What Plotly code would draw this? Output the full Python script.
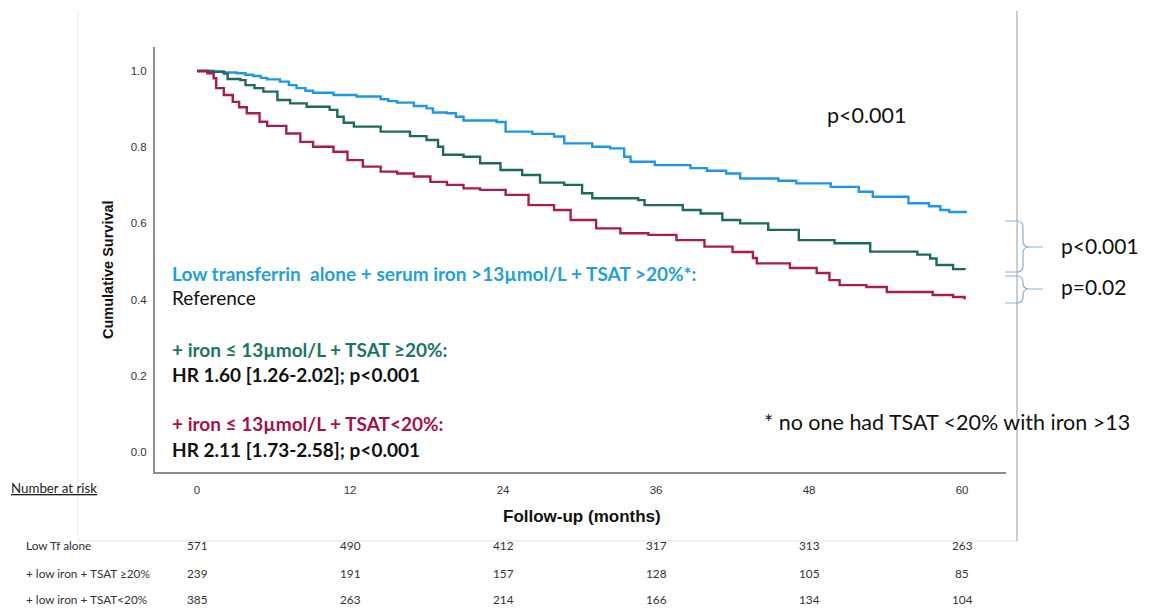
import plotly.graph_objects as go

# Kaplan-Meier step knots: follow-up month and cumulative survival after each drop
months_tf_alone = [0, 1.0, 2.1, 3.1, 3.8, 4.4, 5.0, 5.5, 6.5, 7.2, 7.8, 8.5, 9.1, 10.7, 12.5, 14.4,
                   15.0, 15.7, 17.0, 18.0, 18.5, 19.6, 20.3, 20.9, 23.5, 24.2, 26.3, 28.0, 28.8, 31.0,
                   32.4, 33.5, 34.0, 35.9, 38.7, 40.0, 41.5, 42.6, 45.6, 47.0, 49.7, 51.9, 53.0, 55.8,
                   57.4, 58.3, 59.0, 60.3]
surv_tf_alone = [1.0, 0.998, 0.996, 0.994, 0.990, 0.987, 0.982, 0.978, 0.972, 0.963, 0.955, 0.948,
                 0.943, 0.937, 0.933, 0.926, 0.921, 0.917, 0.908, 0.902, 0.891, 0.889, 0.880, 0.870,
                 0.866, 0.841, 0.835, 0.828, 0.810, 0.801, 0.797, 0.775, 0.762, 0.753, 0.745, 0.738,
                 0.731, 0.718, 0.712, 0.705, 0.696, 0.683, 0.670, 0.653, 0.645, 0.635, 0.630, 0.628]

months_tsat_hi = [0, 1.3, 2.1, 2.4, 3.4, 3.8, 4.5, 5.2, 6.3, 7.3, 8.6, 10.4, 11.0, 11.5, 12.3, 14.4,
                  16.7, 18.0, 18.9, 19.3, 20.9, 22.2, 23.8, 25.5, 26.9, 28.8, 30.2, 31.0, 34.6, 35.1,
                  38.1, 39.5, 41.2, 42.6, 44.8, 47.2, 50.0, 52.8, 56.5, 57.5, 58.0, 59.3, 60.2]
surv_tsat_hi = [1.0, 0.998, 0.993, 0.979, 0.976, 0.963, 0.955, 0.946, 0.924, 0.915, 0.906, 0.898,
                0.880, 0.864, 0.854, 0.841, 0.829, 0.819, 0.801, 0.780, 0.775, 0.758, 0.740, 0.727,
                0.707, 0.701, 0.679, 0.666, 0.661, 0.648, 0.635, 0.626, 0.609, 0.600, 0.583, 0.556,
                0.548, 0.526, 0.518, 0.508, 0.491, 0.480, 0.478]

months_tsat_lo = [0, 0.8, 1.3, 1.5, 2.1, 2.8, 3.3, 3.9, 4.9, 5.5, 7.0, 8.1, 9.1, 10.7, 11.8, 13.0,
                  14.4, 15.7, 17.0, 18.3, 19.6, 20.9, 22.2, 24.2, 26.0, 28.0, 29.3, 31.3, 33.2, 35.4,
                  37.6, 39.8, 42.0, 43.6, 43.9, 46.5, 48.6, 49.6, 50.4, 52.5, 54.1, 57.7, 59.3, 60.2]
surv_tsat_lo = [1.0, 0.994, 0.981, 0.955, 0.937, 0.919, 0.905, 0.889, 0.867, 0.856, 0.836, 0.814,
                0.801, 0.788, 0.766, 0.749, 0.736, 0.731, 0.723, 0.709, 0.701, 0.692, 0.688, 0.675,
                0.648, 0.635, 0.609, 0.587, 0.574, 0.570, 0.556, 0.539, 0.525, 0.509, 0.495, 0.483,
                0.470, 0.451, 0.438, 0.433, 0.420, 0.412, 0.407, 0.400]

x_ticks = [0, 12, 24, 36, 48, 60]
y_ticks = [0.0, 0.2, 0.4, 0.6, 0.8, 1.0]

risk_labels = ["Low Tf alone", "+ low iron + TSAT \u226520%", "+ low iron + TSAT<20%"]
risk_tf_alone = [571, 490, 412, 317, 313, 263]
risk_tsat_hi = [239, 191, 157, 128, 105, 85]
risk_tsat_lo = [385, 263, 214, 166, 134, 104]

W, H = 1153, 608


def px(x):
    return x / W


def py(y):
    return 1 - y / H


BLUE, TEAL, CRIMSON = "#1f97e6", "#1b6b5d", "#a81c55"
CAL = "Lato, 'Open Sans', sans-serif"
ARIAL = "Arial, 'Liberation Sans', sans-serif"

fig = go.Figure()
for t, s, c in [(months_tf_alone, surv_tf_alone, BLUE),
                (months_tsat_hi, surv_tsat_hi, TEAL),
                (months_tsat_lo, surv_tsat_lo, CRIMSON)]:
    fig.add_trace(go.Scatter(x=t, y=s, mode="lines", line=dict(color=c, width=2.4, shape="hv"),
                             hoverinfo="skip", showlegend=False))

ann = []


def text(x, y, s, size, color="#111", bold=False, family=CAL, xa="left", **kw):
    ann.append(dict(x=x, y=y, xref=kw.pop("xref", "paper"), yref="paper", text=f"<b>{s}</b>" if bold else s,
                    showarrow=False, xanchor=xa, yanchor="middle",
                    font=dict(family=family, size=size, color=color), **kw))


# group descriptions inside the plot
text(px(170), py(273), "Low transferrin  alone + serum iron >13\u00b5mol/L + TSAT >20%*:", 19, "#1fa0da", True)
text(px(170), py(298), "Reference", 19, "#111")
text(px(170), py(349), "+ iron \u2264 13\u00b5mol/L + TSAT \u226520%:", 19, "#1b7566", True)
text(px(170), py(374), "HR 1.60 [1.26-2.02]; p<0.001", 19, "#111", True)
text(px(170), py(424), "+ iron \u2264 13\u00b5mol/L + TSAT<20%:", 19, "#a3124c", True)
text(px(170), py(449), "HR 2.11 [1.73-2.58]; p<0.001", 19, "#111", True)

text(px(825), py(115), "p<0.001", 21.5)
text(px(762), py(422), "* no one had TSAT <20% with iron >13", 21.5)
text(px(1059), py(246), "p<0.001", 21)
text(px(1059), py(286), "p=0.02", 21)

# axis titles
text(px(108), py(269), "Cumulative Survival", 14.5, "#111", True, family=ARIAL, xa="center", textangle=-90)
text(px(582), py(516), "Follow-up (months)", 17, "#111", True, family=ARIAL, xa="center")

# number-at-risk table
text(px(9), py(488), "<u>Number at risk</u>", 13.3, "#222")
for row_y, label, counts in zip([545, 573, 599], risk_labels, [risk_tf_alone, risk_tsat_hi, risk_tsat_lo]):
    text(px(24), py(row_y), label, 11.8, "#333")
    for m, n in zip(x_ticks, counts):
        text(m, py(row_y), str(n), 11.8, "#333", xa="center", xref="x")

shapes = []


def line(x0, y0, x1, y1, color, width):
    shapes.append(dict(type="line", xref="paper", yref="paper", x0=px(x0), y0=py(y0), x1=px(x1), y1=py(y1),
                       line=dict(color=color, width=width)))


# light frame around the chart panel
line(78, 10, 78, 541, "#ececec", 1)
line(78, 541, 1017, 541, "#e2e2e2", 1)
line(1017, 11, 1017, 541, "#bdbdbd", 1.5)


def brace(top, mid, bot, left=1005, spine=1023, tip=1043, r=6):
    pts = [("M", left, top), ("L", spine - r, top), ("Q", spine, top, spine, top + r),
           ("L", spine, mid - r), ("Q", spine, mid, spine + r, mid), ("L", tip, mid),
           ("M", spine + r, mid), ("Q", spine, mid, spine, mid + r),
           ("L", spine, bot - r), ("Q", spine, bot, spine - r, bot), ("L", left, bot)]
    parts = []
    for p in pts:
        cmd, coords = p[0], p[1:]
        xy = [f"{px(coords[i]):.5f},{py(coords[i + 1]):.5f}" for i in range(0, len(coords), 2)]
        parts.append(cmd + " " + " ".join(xy))
    shapes.append(dict(type="path", xref="paper", yref="paper", path=" ".join(parts),
                       line=dict(color="#8eaadb", width=1.2)))


brace(221, 247, 272)
brace(276, 289, 303)

fig.update_layout(
    width=W, height=H, margin=dict(l=0, r=0, t=0, b=0),
    paper_bgcolor="white", plot_bgcolor="white",
    annotations=ann, shapes=shapes,
    xaxis=dict(domain=[px(155), px(1006)], range=[-3.3, 63.45], tickvals=x_ticks,
               showline=True, linecolor="#8c8c8c", linewidth=2, showgrid=False, zeroline=False,
               ticks="", ticklabelstandoff=6, tickfont=dict(family=ARIAL, size=11.5, color="#333")),
    yaxis=dict(domain=[py(472), py(47)], range=[-0.0525, 1.063], tickvals=y_ticks, tickformat=".1f",
               showline=True, linecolor="#8c8c8c", linewidth=2, showgrid=False, zeroline=False,
               ticks="", ticklabelstandoff=4, tickfont=dict(family=ARIAL, size=11.5, color="#333")),
)

fig.write_html("out.html")
